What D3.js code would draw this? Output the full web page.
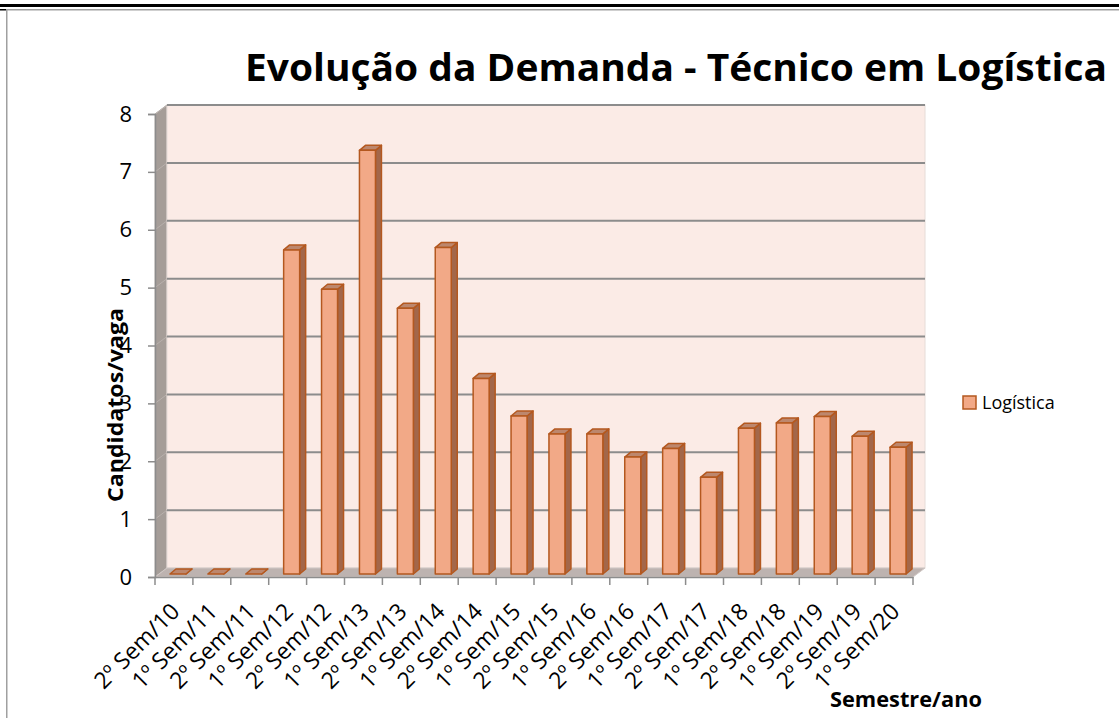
<!DOCTYPE html>
<html>
<head>
<meta charset="utf-8">
<script src="https://cdn.jsdelivr.net/npm/d3@7"></script>
<style>
  body { margin: 0; background: #fff; }
  svg { display: block; font-family: "Open Sans", sans-serif; }
</style>
</head>
<body>
<svg id="chart" width="1119" height="718"></svg>
<script>
const semestres = [
    "2º Sem/10", "1º Sem/11", "2º Sem/11", "1º Sem/12", "2º Sem/12",
    "1º Sem/13", "2º Sem/13", "1º Sem/14", "2º Sem/14", "1º Sem/15",
    "2º Sem/15", "1º Sem/16", "2º Sem/16", "1º Sem/17", "2º Sem/17",
    "1º Sem/18", "2º Sem/18", "1º Sem/19", "2º Sem/19", "1º Sem/20"
];
const logistica = [
    0, 0, 0, 5.6, 4.92, 7.32, 4.59, 5.64, 3.38, 2.73,
    2.42, 2.42, 2.02, 2.17, 1.67, 2.52, 2.61, 2.72, 2.38, 2.19
];
const yTicks = [0, 1, 2, 3, 4, 5, 6, 7, 8];

const svg = d3.select("#chart");

// frame
svg.append("rect").attr("x", 0).attr("y", 4).attr("width", 1119).attr("height", 3).attr("fill", "#000");
svg.append("rect").attr("x", 0).attr("y", 9).attr("width", 7).attr("height", 1.5).attr("fill", "#000");
svg.append("rect").attr("x", 7).attr("y", 9).attr("width", 1112).attr("height", 1.5).attr("fill", "#a0a0a0");
svg.append("rect").attr("x", 6).attr("y", 9).attr("width", 1.5).attr("height", 709).attr("fill", "#a0a0a0");

// depth of the 3d box
const dX = 12, dY = -9;
const x0 = 155, x1 = 913;

const xScale = d3.scaleBand()
    .domain(semestres)
    .range([x0, x1])
    .padding(0)

const yScale = d3.scaleLinear()
    .domain([0, 8])
    .range([577, 114])

// side wall
svg.append("polygon")
    .attr("points", [[x0, yScale(0)], [x0, yScale(8)], [x0 + dX, yScale(8) + dY], [x0 + dX, yScale(0) + dY]].join(" "))
    .attr("fill", "#a59d98")
    .attr("stroke", "#c8c0bc")

// back wall
svg.append("rect")
    .attr("x", x0 + dX)
    .attr("y", yScale(8) + dY)
    .attr("width", x1 - x0)
    .attr("height", yScale(0) - yScale(8))
    .attr("fill", "#fbebe6")
    .attr("stroke", "#e6dcd8")

// floor
svg.append("polygon")
    .attr("points", [[x0, yScale(0)], [x1, yScale(0)], [x1 + dX, yScale(0) + dY], [x0 + dX, yScale(0) + dY]].join(" "))
    .attr("fill", "#bdb3b0")
    .attr("stroke", "#d0c8c5")

// gridlines on back wall + side wall
const grid = svg.append("g").attr("stroke", "#8c8c8c").attr("stroke-width", 2)
grid.selectAll("line.back")
    .data(yTicks.filter(d => d > 0))
    .enter()
    .append("line")
    .attr("class", "back")
    .attr("x1", x0 + dX)
    .attr("x2", x1 + dX)
    .attr("y1", d => yScale(d) + dY)
    .attr("y2", d => yScale(d) + dY)
grid.selectAll("line.side")
    .data(yTicks.filter(d => d > 0))
    .enter()
    .append("line")
    .attr("class", "side")
    .attr("stroke", "#b8b0ac")
    .attr("stroke-width", 1)
    .attr("x1", x0)
    .attr("x2", x0 + dX)
    .attr("y1", d => yScale(d))
    .attr("y2", d => yScale(d) + dY)

// y axis
const yAxis = d3.axisLeft(yScale)
    .tickValues(yTicks)
    .tickSize(7)
    .tickPadding(16)
    .tickFormat(d3.format("d"))

const gy = svg.append("g")
    .attr("transform", "translate(" + x0 + ",0)")
    .call(yAxis)
gy.select(".domain").attr("stroke", "#8c8c8c").attr("stroke-width", 1.5)
gy.selectAll(".tick line").attr("stroke", "#8c8c8c").attr("stroke-width", 1.5)
gy.selectAll(".tick text")
    .attr("font-family", "Open Sans")
    .attr("font-size", 22)
    .attr("fill", "#000")

// x axis
const xAxis = d3.axisBottom(xScale).tickSize(0).tickPadding(0)
const gx = svg.append("g")
    .attr("transform", "translate(0," + yScale(0) + ")")
    .call(xAxis)
gx.select(".domain").attr("stroke", "#8c8c8c").attr("stroke-width", 1.5)
gx.selectAll(".tick text")
    .attr("font-family", "Open Sans")
    .attr("font-size", 23)
    .attr("fill", "#000")
    .attr("text-anchor", "end")
    .attr("y", 0)
    .attr("dy", 0)
    .attr("transform", "translate(7,36) rotate(-45)")

// boundary ticks
svg.append("g")
    .selectAll("line")
    .data(semestres.map(d => xScale(d)).concat([x1]))
    .enter()
    .append("line")
    .attr("x1", d => d)
    .attr("x2", d => d)
    .attr("y1", yScale(0))
    .attr("y2", yScale(0) + 8)
    .attr("stroke", "#8c8c8c")
    .attr("stroke-width", 1.5)

// bars (3d columns)
const fw = 16, bdX = 6, bdY = -5, offX = 4, offY = -3;
const bars = svg.append("g")
    .attr("stroke", "#b4581f")
    .attr("stroke-width", 1.5)
    .attr("stroke-linejoin", "round")

const frontX = (d, i) => xScale(semestres[i]) + xScale.bandwidth() / 2 + offX - fw / 2;
const yTop = d => yScale(d) + offY;
const yBot = yScale(0) + offY;

bars.selectAll("polygon.side")
    .data(logistica)
    .enter()
    .append("polygon")
    .attr("class", "side")
    .attr("fill", "#a3674a")
    .attr("points", (d, i) => {
        const fx = frontX(d, i) + fw;
        return [[fx, yTop(d)], [fx + bdX, yTop(d) + bdY], [fx + bdX, yBot + bdY], [fx, yBot]].join(" ");
    })

bars.selectAll("polygon.top")
    .data(logistica)
    .enter()
    .append("polygon")
    .attr("class", "top")
    .attr("fill", "#bd876d")
    .attr("points", (d, i) => {
        const fx = frontX(d, i);
        return [[fx, yTop(d)], [fx + bdX, yTop(d) + bdY], [fx + fw + bdX, yTop(d) + bdY], [fx + fw, yTop(d)]].join(" ");
    })

bars.selectAll("rect")
    .data(logistica)
    .enter()
    .append("rect")
    .attr("fill", "#f2a987")
    .attr("x", (d, i) => frontX(d, i))
    .attr("y", d => yTop(d))
    .attr("width", fw)
    .attr("height", d => yBot - yTop(d))

// title
svg.append("text")
    .attr("x", 245)
    .attr("y", 81)
    .attr("font-family", "Open Sans")
    .attr("font-weight", "bold")
    .attr("font-size", 38)
    .attr("textLength", 862)
    .attr("lengthAdjust", "spacingAndGlyphs")
    .text("Evolução da Demanda - Técnico em Logística")

// axis titles
svg.append("text")
    .attr("transform", "translate(123,405) rotate(-90)")
    .attr("text-anchor", "middle")
    .attr("font-family", "Open Sans")
    .attr("font-weight", "bold")
    .attr("font-size", 21)
    .attr("textLength", 194)
    .attr("lengthAdjust", "spacingAndGlyphs")
    .text("Candidatos/vaga")

svg.append("text")
    .attr("x", 906)
    .attr("y", 707)
    .attr("text-anchor", "middle")
    .attr("font-family", "Open Sans")
    .attr("font-weight", "bold")
    .attr("font-size", 21)
    .attr("textLength", 152)
    .attr("lengthAdjust", "spacingAndGlyphs")
    .text("Semestre/ano")

// legend
const legend = svg.append("g").attr("transform", "translate(963,396)")
legend.append("rect")
    .attr("width", 13)
    .attr("height", 13)
    .attr("fill", "#f2a987")
    .attr("stroke", "#b4581f")
    .attr("stroke-width", 1.5)
legend.append("text")
    .attr("x", 19)
    .attr("y", 12.5)
    .attr("font-family", "Open Sans")
    .attr("font-size", 18)
    .text("Logística")
</script>
</body>
</html>
